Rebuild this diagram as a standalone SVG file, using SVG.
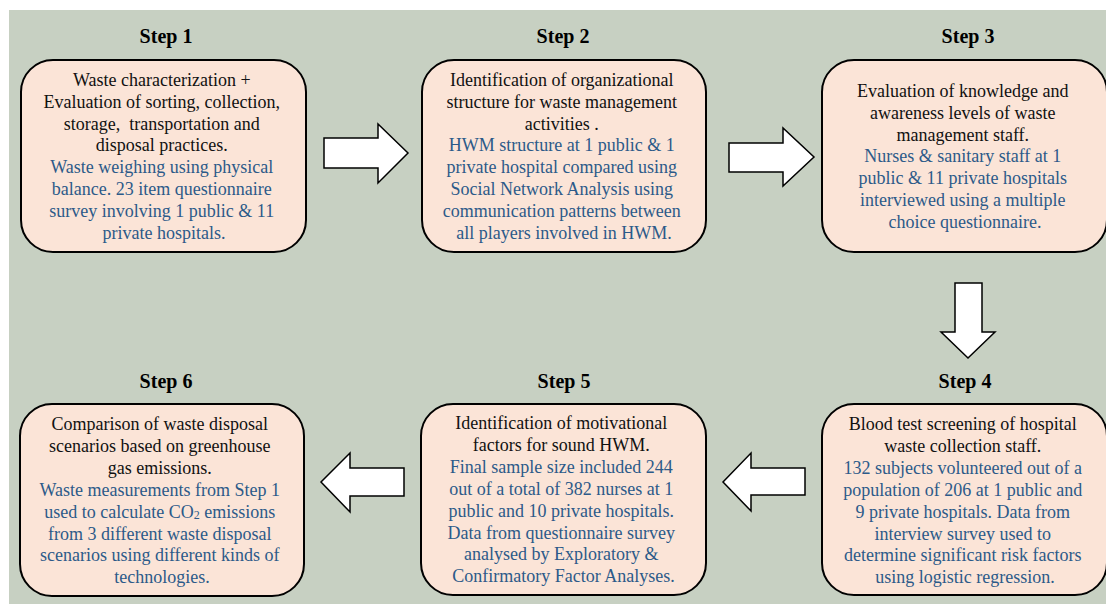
<svg xmlns="http://www.w3.org/2000/svg" width="1106" height="604" viewBox="0 0 1106 604">
<style>
.box{fill:#FBE4D7;stroke:#000;stroke-width:2}
.arr{fill:#fff;stroke:#000;stroke-width:1.5;stroke-linejoin:miter}
.step{font-family:"Liberation Serif",serif;font-weight:bold;font-size:20px;fill:#000;text-anchor:middle}
.t{font-family:"Liberation Serif",serif;font-size:18px;text-anchor:middle}
.k{fill:#111}
.b{fill:#2C5A89}
</style>
<rect x="0" y="0" width="1106" height="604" fill="#fff"/>
<rect x="9" y="10" width="1097" height="594" fill="#C7D0C2"/>

<g id="connectors">
<polygon class="arr" points="324,138 378,138 378,124 408,153 378,183 378,168 324,168"/>
<polygon class="arr" points="729,143 783,143 783,128 814,157 783,186 783,172 729,172"/>
<polygon class="arr" points="955,283 982,283 982,332 995,332 968,358 941,332 955,332"/>
<polygon class="arr" points="805,468 751,468 751,453 723,482 751,511 751,495 805,495"/>
<polygon class="arr" points="404,468 350,468 350,453 321,482 350,512 350,496 404,496"/>
</g>

<g id="step1">
<text class="step" x="166" y="43">Step 1</text>
<rect class="box" x="21" y="60" width="285" height="192" rx="32"/>
<text class="t" y="86">
<tspan class="k" x="164" dy="0">Waste characterization +</tspan>
<tspan class="k" x="164" dy="21.8">Evaluation of sorting, collection,</tspan>
<tspan class="k" x="164" dy="21.8">storage,&#160; transportation and</tspan>
<tspan class="k" x="164" dy="21.8">disposal practices.</tspan>
<tspan class="b" x="164" dy="21.8">Waste weighing using physical</tspan>
<tspan class="b" x="164" dy="21.8">balance. 23 item questionnaire</tspan>
<tspan class="b" x="164" dy="21.8">survey involving 1 public &amp; 11</tspan>
<tspan class="b" x="164" dy="21.8">private hospitals.</tspan>
</text>
</g>

<g id="step2">
<text class="step" x="563" y="43">Step 2</text>
<rect class="box" x="422" y="60" width="284" height="192" rx="32"/>
<text class="t" y="86">
<tspan class="k" x="564" dy="0">Identification of organizational</tspan>
<tspan class="k" x="564" dy="21.8">structure for waste management</tspan>
<tspan class="k" x="564" dy="21.8">activities .</tspan>
<tspan class="b" x="564" dy="21.8">HWM structure at 1 public &amp; 1</tspan>
<tspan class="b" x="564" dy="21.8">private hospital compared using</tspan>
<tspan class="b" x="564" dy="21.8">Social Network Analysis using</tspan>
<tspan class="b" x="564" dy="21.8">communication patterns between</tspan>
<tspan class="b" x="564" dy="21.8">all players involved in HWM.</tspan>
</text>
</g>

<g id="step3">
<text class="step" x="968" y="43">Step 3</text>
<rect class="box" x="822" y="60" width="285" height="192" rx="32"/>
<text class="t" y="97">
<tspan class="k" x="965" dy="0">Evaluation of knowledge and</tspan>
<tspan class="k" x="965" dy="21.8">awareness levels of waste</tspan>
<tspan class="k" x="965" dy="21.8">management staff.</tspan>
<tspan class="b" x="965" dy="21.8">Nurses &amp; sanitary staff at 1</tspan>
<tspan class="b" x="965" dy="21.8">public &amp; 11 private hospitals</tspan>
<tspan class="b" x="965" dy="21.8">interviewed using a multiple</tspan>
<tspan class="b" x="965" dy="21.8">choice questionnaire.</tspan>
</text>
</g>

<g id="step4">
<text class="step" x="965" y="388">Step 4</text>
<rect class="box" x="822" y="404" width="285" height="191" rx="32"/>
<text class="t" y="430">
<tspan class="k" x="965" dy="0">Blood test screening of hospital</tspan>
<tspan class="k" x="965" dy="21.9">waste collection staff.</tspan>
<tspan class="b" x="965" dy="21.9">132 subjects volunteered out of a</tspan>
<tspan class="b" x="965" dy="21.9">population of 206 at 1 public and</tspan>
<tspan class="b" x="965" dy="21.9">9 private hospitals. Data from</tspan>
<tspan class="b" x="965" dy="21.9">interview survey used to</tspan>
<tspan class="b" x="965" dy="21.9">determine significant risk factors</tspan>
<tspan class="b" x="965" dy="21.9">using logistic regression.</tspan>
</text>
</g>

<g id="step5">
<text class="step" x="564" y="388">Step 5</text>
<rect class="box" x="421" y="404" width="285" height="191" rx="32"/>
<text class="t" y="429">
<tspan class="k" x="563.5" dy="0">Identification of motivational</tspan>
<tspan class="k" x="563.5" dy="21.9">factors for sound HWM.</tspan>
<tspan class="b" x="563.5" dy="21.9">Final sample size included 244</tspan>
<tspan class="b" x="563.5" dy="21.9">out of a total of 382 nurses at 1</tspan>
<tspan class="b" x="563.5" dy="21.9">public and 10 private hospitals.</tspan>
<tspan class="b" x="563.5" dy="21.9">Data from questionnaire survey</tspan>
<tspan class="b" x="563.5" dy="21.9">analysed by Exploratory &amp;</tspan>
<tspan class="b" x="563.5" dy="21.9">Confirmatory Factor Analyses.</tspan>
</text>
</g>

<g id="step6">
<text class="step" x="166" y="388">Step 6</text>
<rect class="box" x="20" y="404" width="284" height="192" rx="32"/>
<text class="t" y="430">
<tspan class="k" x="162" dy="0">Comparison of waste disposal</tspan>
<tspan class="k" x="162" dy="21.9">scenarios based on greenhouse</tspan>
<tspan class="k" x="162" dy="21.9">gas emissions.</tspan>
<tspan class="b" x="162" dy="21.9">Waste measurements from Step 1</tspan>
<tspan class="b" x="162" dy="21.9">used to calculate CO<tspan font-size="12" dy="1">2</tspan><tspan dy="-1"> emissions</tspan></tspan>
<tspan class="b" x="162" dy="21.9">from 3 different waste disposal</tspan>
<tspan class="b" x="162" dy="21.9">scenarios using different kinds of</tspan>
<tspan class="b" x="162" dy="21.9">technologies.</tspan>
</text>
</g>
</svg>
